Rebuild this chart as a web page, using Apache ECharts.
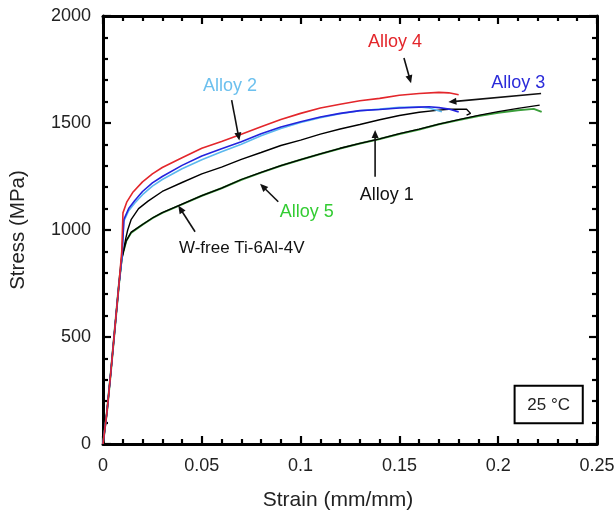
<!DOCTYPE html>
<html>
<head>
<meta charset="utf-8">
<script src="https://cdn.jsdelivr.net/npm/echarts@6/dist/echarts.min.js"></script>
<style>html,body{margin:0;padding:0;background:#fff}#c{width:616px;height:514px}</style>
</head>
<body>
<div id="c"></div>
<script>
// ---- data (strain, stress MPa) ----
const elastic = [[0,0],[0.002,150],[0.004,340],[0.006,540],[0.008,740]];
const alloy4 = [[0.0095,900],[0.0101,1080],[0.012,1130],[0.015,1175],[0.02,1225],[0.025,1262],[0.03,1292],[0.04,1338],[0.05,1382],[0.06,1414],[0.07,1447],[0.08,1482],[0.09,1516],[0.10,1545],[0.11,1570],[0.12,1588],[0.13,1604],[0.14,1615],[0.15,1630],[0.16,1638],[0.17,1643],[0.175,1641],[0.18,1632]];
const alloy3 = [[0.0096,880],[0.0106,1050],[0.013,1100],[0.016,1137],[0.02,1180],[0.025,1220],[0.03,1250],[0.04,1302],[0.05,1346],[0.06,1380],[0.07,1412],[0.08,1450],[0.09,1481],[0.10,1506],[0.11,1528],[0.12,1545],[0.13,1558],[0.14,1563],[0.15,1570],[0.16,1574],[0.165,1576],[0.17,1572],[0.175,1565],[0.18,1552]];
const alloy2 = [[0.0096,870],[0.0105,1040],[0.013,1090],[0.016,1125],[0.02,1165],[0.025,1205],[0.03,1236],[0.04,1286],[0.05,1328],[0.06,1366],[0.07,1401],[0.08,1440],[0.09,1474],[0.10,1502],[0.11,1525],[0.12,1543],[0.13,1557],[0.14,1565],[0.15,1573],[0.16,1575],[0.165,1570],[0.1715,1553]];
const alloy1 = [[0.0095,860],[0.0115,960],[0.0125,1000],[0.0143,1050],[0.018,1100],[0.0228,1135],[0.03,1180],[0.04,1222],[0.05,1262],[0.06,1294],[0.07,1330],[0.08,1362],[0.09,1395],[0.10,1420],[0.11,1448],[0.12,1472],[0.13,1493],[0.14,1515],[0.15,1535],[0.16,1550],[0.17,1560],[0.175,1564],[0.184,1564],[0.186,1545],[0.184,1537]];
const alloy5 = [[0.0095,870],[0.0118,950],[0.0143,988],[0.02,1025],[0.025,1055],[0.03,1080],[0.04,1120],[0.05,1160],[0.06,1195],[0.07,1235],[0.08,1268],[0.09,1300],[0.10,1328],[0.11,1355],[0.12,1381],[0.13,1404],[0.14,1425],[0.15,1449],[0.16,1470],[0.17,1494],[0.18,1514],[0.19,1533],[0.20,1548],[0.21,1560],[0.218,1566],[0.222,1552]];
const wfree = [[0.0095,870],[0.0118,950],[0.0143,990],[0.02,1026],[0.025,1056],[0.03,1081],[0.04,1121],[0.05,1161],[0.06,1196],[0.07,1236],[0.08,1269],[0.09,1301],[0.10,1329],[0.11,1356],[0.12,1382],[0.13,1405],[0.14,1426],[0.15,1450],[0.16,1471],[0.17,1495],[0.18,1516],[0.19,1536],[0.20,1553],[0.21,1568],[0.221,1584]];
const xTicks = ['0','0.05','0.1','0.15','0.2','0.25'];
const yTicks = ['0','500','1000','1500','2000'];
// annotations: [text, color, textPos, arrowStart, arrowEnd]
const notes = [
  ['Alloy 4','#e3262b',[0.1478,1879],[0.1523,1804],[0.1559,1686]],
  ['Alloy 2','#6cc0ee',[0.0643,1673],[0.0651,1607],[0.0690,1418]],
  ['Alloy 3','#2b2bd9',[0.2102,1686],[0.2217,1638],[0.1748,1598]],
  ['Alloy 1','#111111',[0.1436,1164],[0.1377,1249],[0.1377,1467]],
  ['Alloy 5','#33cc33',[0.1031,1086],[0.0887,1132],[0.0795,1216]],
  ['W-free Ti-6Al-4V','#111111',[0.0702,914],[0.0466,992],[0.0381,1114]]
];
const tempLabel = '25 °C';

const font = '"Liberation Sans", Arial, Helvetica, sans-serif';
const chart = echarts.init(document.getElementById('c'), null, {renderer:'canvas'});
const axisCommon = {
  axisLine:{show:true,onZero:false,lineStyle:{color:'#000',width:3}},
  axisTick:{show:true,inside:true,length:8,lineStyle:{color:'#000',width:2.2}},
  minorTick:{show:true,splitNumber:5,length:5,lineStyle:{color:'#000',width:2.2}},
  splitLine:{show:false}
};
function ser(name,data,color,w,z){
  return {name,type:'line',data:elastic.concat(data),showSymbol:false,symbol:'none',
    lineStyle:{color,width:w},itemStyle:{color},z:z,animation:false,silent:true};
}
chart.setOption({
  animation:false,
  grid:{left:103,right:19,top:16,bottom:70,containLabel:false,outerBoundsMode:'none'},
  xAxis:[
    Object.assign({type:'value',min:0,max:0.25,interval:0.05,position:'bottom',
      name:'Strain (mm/mm)',nameLocation:'middle',nameGap:46,
      nameTextStyle:{fontFamily:font,fontSize:21,color:'#222',padding:[0,24,0,0]},
      axisLabel:{margin:13,fontFamily:font,fontSize:18,color:'#222',formatter:(v)=>xTicks[Math.round(v/0.05)]}},axisCommon),
    Object.assign({type:'value',min:0,max:0.25,interval:0.05,position:'top',axisLabel:{show:false}},axisCommon)
  ],
  yAxis:[
    Object.assign({type:'value',min:0,max:2000,interval:500,position:'left',
      name:'Stress (MPa)',nameLocation:'middle',nameGap:74,
      nameTextStyle:{fontFamily:font,fontSize:20.5,color:'#222'},
      axisLabel:{margin:12,fontFamily:font,fontSize:18,color:'#222',formatter:(v)=>yTicks[Math.round(v/500)]}},axisCommon),
    Object.assign({type:'value',min:0,max:2000,interval:500,position:'right',axisLabel:{show:false}},axisCommon)
  ],
  series:[
    ser('Alloy 5',alloy5,'#3a9e3a',2,2),
    ser('W-free Ti-6Al-4V',wfree,'#000000',1.3,3),
    ser('Alloy 1',alloy1,'#000000',1.4,4),
    ser('Alloy 2',alloy2,'#5bb8ee',1.6,5),
    ser('Alloy 3',alloy3,'#2323dd',1.6,6),
    ser('Alloy 4',alloy4,'#e3262b',1.6,7)
  ]
});

function px(p){return chart.convertToPixel({gridIndex:0},p);}
const g = [];
notes.forEach(n=>{
  const t = px(n[2]), a = px(n[3]), b = px(n[4]);
  g.push({type:'text',x:t[0],y:t[1],style:{text:n[0],fill:n[1],font:(n[0].length>8?'17px ':'18px ')+font,align:'center',verticalAlign:'middle'},z:20});
  const dx=b[0]-a[0], dy=b[1]-a[1], L=Math.hypot(dx,dy), ux=dx/L, uy=dy/L;
  const hl=8, hw=3.5;
  const bx=b[0]-ux*hl, by=b[1]-uy*hl;
  g.push({type:'line',shape:{x1:a[0],y1:a[1],x2:bx+ux*1,y2:by+uy*1},style:{stroke:'#111',lineWidth:1.6},z:20});
  g.push({type:'polygon',shape:{points:[[b[0],b[1]],[bx-uy*hw,by+ux*hw],[bx+uy*hw,by-ux*hw]]},style:{fill:'#111'},z:20});
});
// temperature box, placed in data coordinates
const bl = px([0.2083,272]), br = px([0.2428,97]);
g.push({type:'rect',shape:{x:bl[0],y:bl[1],width:br[0]-bl[0],height:br[1]-bl[1]},style:{fill:'#fff',stroke:'#000',lineWidth:2},z:20});
g.push({type:'text',x:(bl[0]+br[0])/2,y:(bl[1]+br[1])/2+1,style:{text:tempLabel,fill:'#222',font:'17px '+font,align:'center',verticalAlign:'middle'},z:21});
chart.setOption({graphic:g});
</script>
</body>
</html>
